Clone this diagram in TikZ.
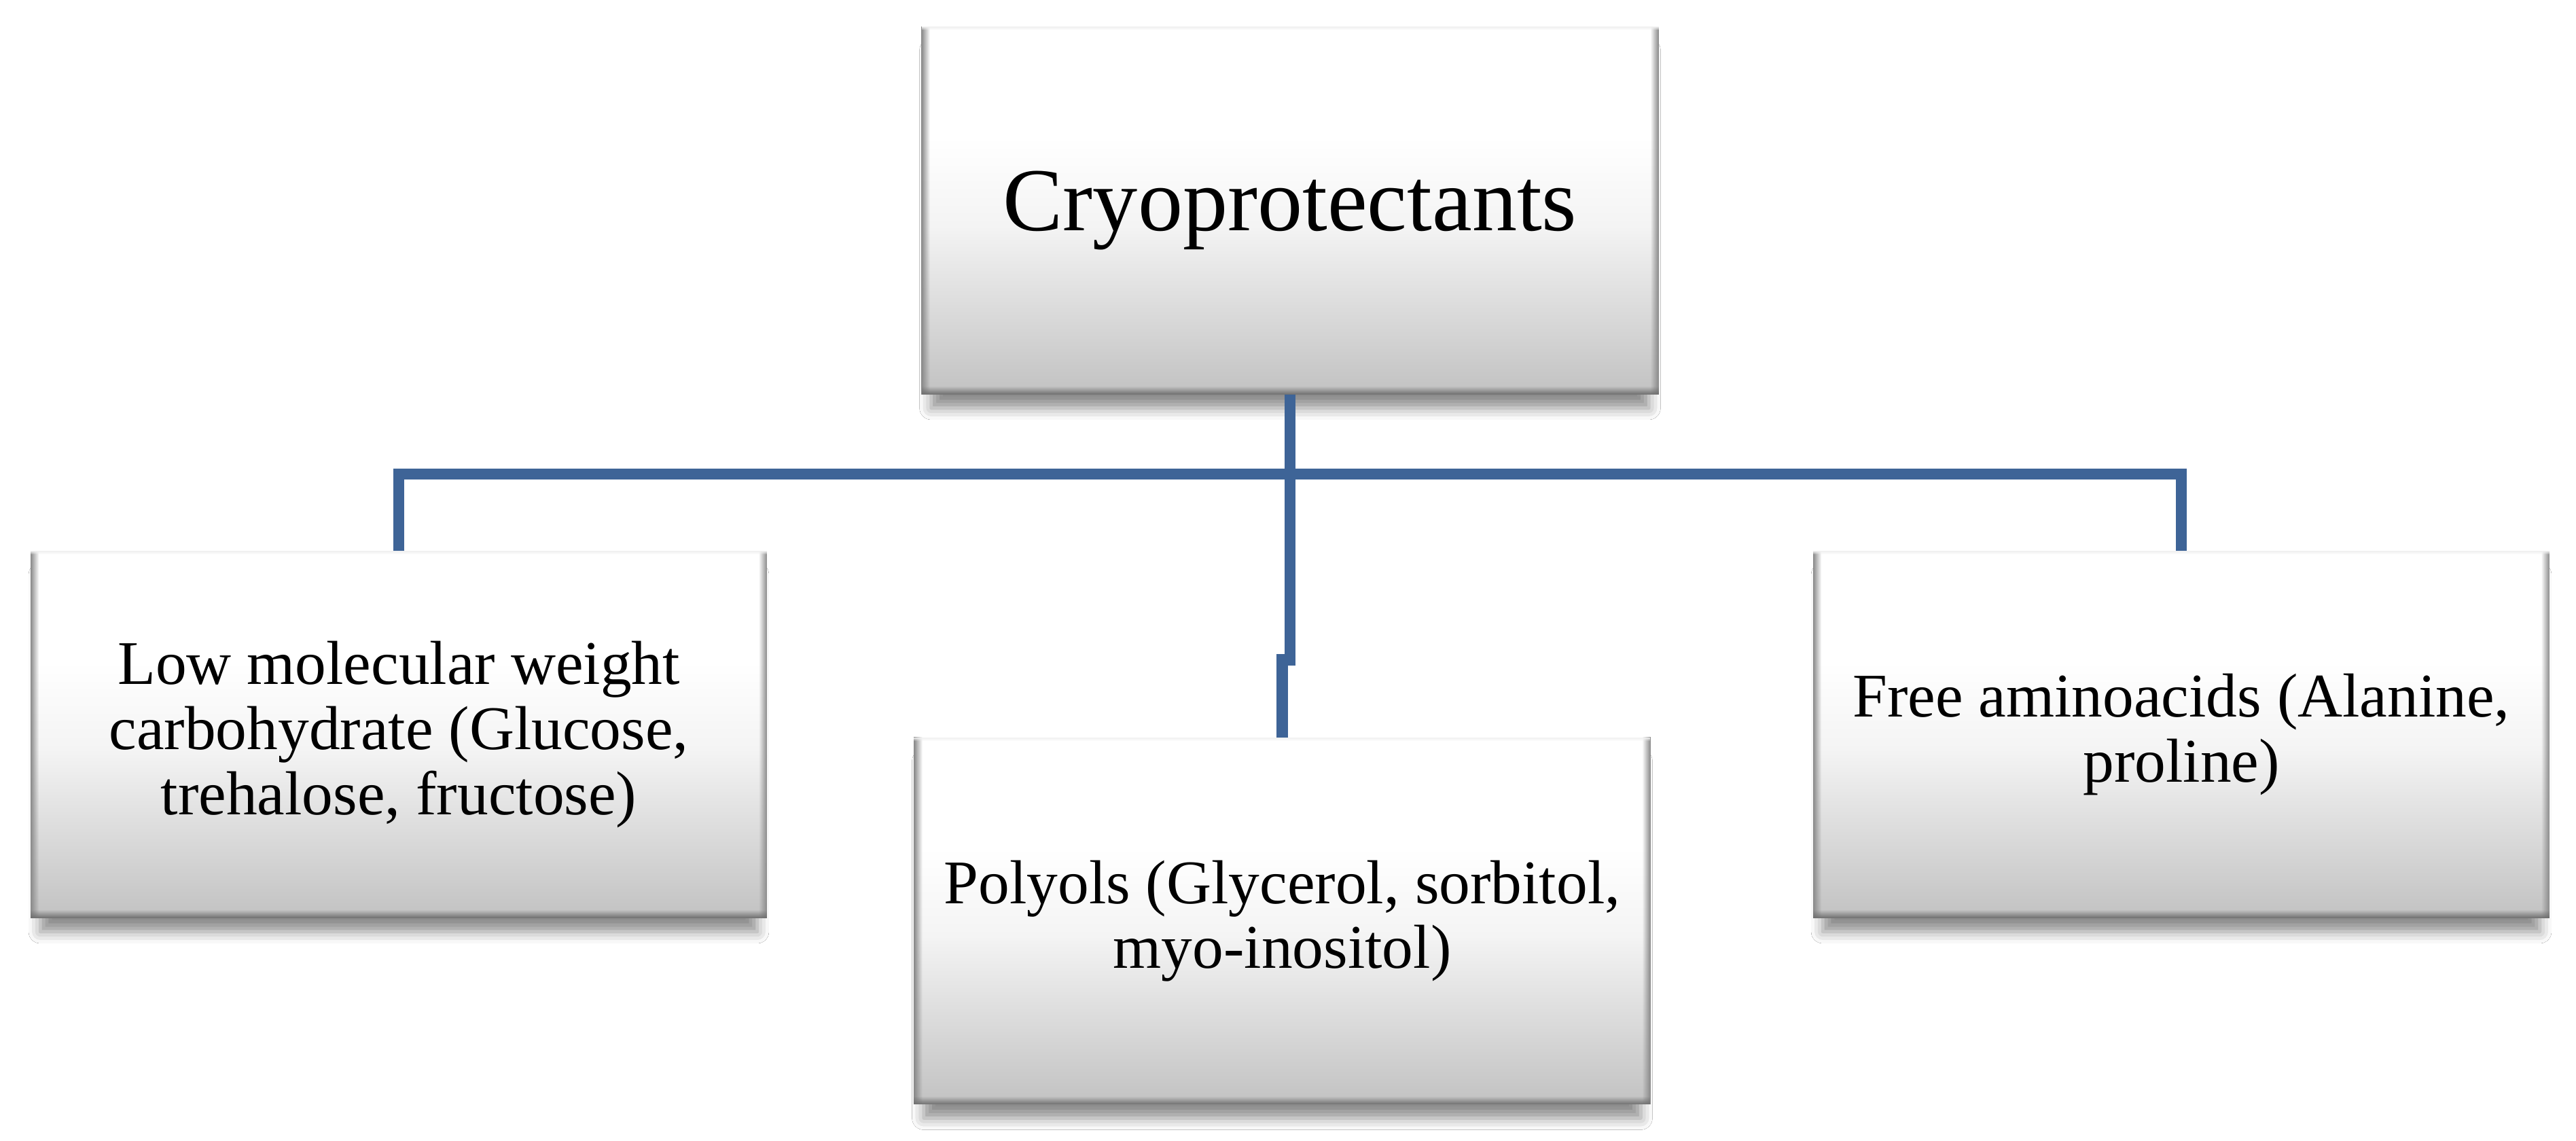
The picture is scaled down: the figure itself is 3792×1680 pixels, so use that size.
\documentclass[tikz,border=0pt]{standalone}
\usepackage{fontspec}
\setmainfont{Liberation Serif}
\usetikzlibrary{shadows.blur,fadings}
\definecolor{linkblue}{HTML}{3E6497}
\definecolor{boxbot}{HTML}{C2C2C2}
\definecolor{boxmid}{HTML}{F4F4F4}
\definecolor{edgegray}{HTML}{8A8A8A}
\definecolor{edgedark}{HTML}{6E6E6E}
\pgfdeclareverticalshading{boxshade}{100bp}{color(0bp)=(boxbot); color(25bp)=(boxbot); color(48bp)=(boxmid); color(60bp)=(white); color(100bp)=(white)}
\newcommand\bevelbox[1]{%
  \fill[edgegray, path fading=east] (#1.south west) rectangle ([xshift=3.5pt]#1.north west);
  \fill[edgegray, path fading=west] ([xshift=-3.5pt]#1.south east) rectangle (#1.north east);
  \fill[edgedark, path fading=north] (#1.south west) rectangle ([yshift=3.5pt]#1.south east);
  \fill[gray!12, path fading=south] ([yshift=-1.5pt]#1.north west) rectangle (#1.north east);
}
\begin{document}
\begin{tikzpicture}[x=0.01cm,y=-0.01cm,
  cbox/.style={rectangle, inner sep=0pt, shading=boxshade, align=center,
    blur shadow={shadow xshift=0pt, shadow yshift=-8pt, shadow blur radius=5pt, shadow opacity=45, shadow scale=0.975}},
  smallbox/.style={cbox, minimum width=10.82cm, minimum height=5.39cm, font=\fontsize{26}{27.2}\selectfont},
  bigbox/.style={cbox, minimum width=10.83cm, minimum height=5.40cm, font=\fontsize{37.6}{40}\selectfont},
  link/.style={draw=linkblue, line width=4.7pt, line join=miter}]
\useasboundingbox (0,0) rectangle (3792,1680);
\fill[white] (0,0) rectangle (3792,1680);

\node[bigbox] (top) at (1899,310) {Cryoprotectants};
\node[smallbox] (left) at (587,1081.5) {Low molecular weight\\carbohydrate (Glucose,\\trehalose, fructose)};
\node[smallbox] (mid) at (1887.5,1356) {Polyols (Glycerol, sorbitol,\\myo-inositol)};
\node[smallbox] (right) at (3211,1081.5) {Free aminoacids (Alanine,\\proline)};

\bevelbox{top}
\bevelbox{left}
\bevelbox{mid}
\bevelbox{right}

\coordinate (bar) at (1899,698);
\coordinate (j1) at (1899,980);
\coordinate (j2) at (1887.5,963);

\draw[link] (top.south) -- (j1);
\draw[link] (j2) -- (mid.north);
\draw[link] (left.north) |- (bar) -| (right.north);
\end{tikzpicture}
\end{document}
